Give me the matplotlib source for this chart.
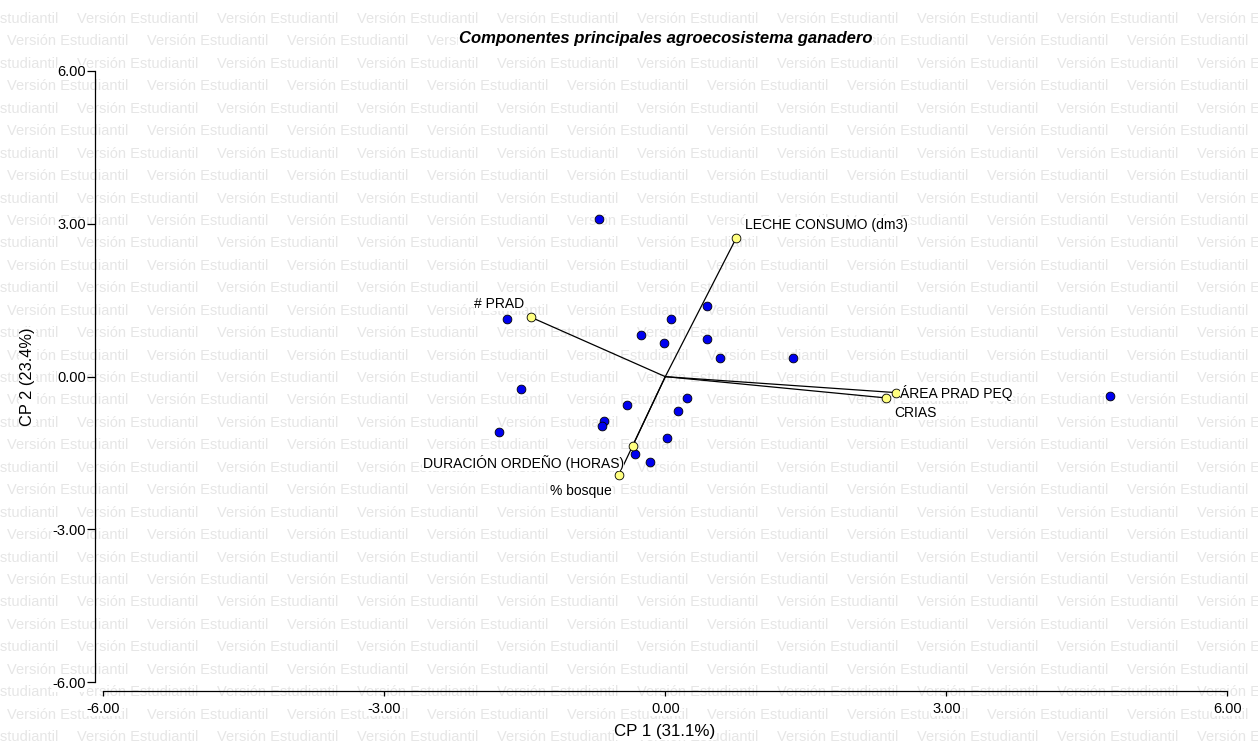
import matplotlib
matplotlib.use("Agg")
import matplotlib.pyplot as plt
from matplotlib.ticker import FixedLocator, FixedFormatter

plt.rcParams['font.family'] = ['Liberation Sans', 'DejaVu Sans']

# ---- data ----
obs_x = [-0.705, -1.687, 0.061, 0.448, -0.256, -0.017, 0.448, 0.581, 1.360, -1.537,
         0.235, -0.406, 0.132, -0.658, -0.673, -1.779, 0.015, -0.327, -0.167, 4.748]
obs_y = [3.09, 1.139, 1.139, 1.394, 0.824, 0.667, 0.746, 0.361, 0.361, -0.241,
         -0.424, -0.550, -0.679, -0.864, -0.968, -1.091, -1.203, -1.512, -1.669, -0.373]

var_names = ["LECHE CONSUMO (dm3)", "# PRAD", "ÁREA PRAD PEQ", "CRIAS",
             "DURACIÓN ORDEÑO (HORAS)", "% bosque"]
var_x = [0.758, -1.434, 2.466, 2.359, -0.348, -0.494]
var_y = [2.723, 1.166, -0.314, -0.418, -1.355, -1.924]

ticks = [-6, -3, 0, 3, 6]
tick_labels = ["-6.00", "-3.00", "0.00", "3.00", "6.00"]

title = "Componentes principales agroecosistema ganadero"
xlabel = "CP 1 (31.1%)"
ylabel = "CP 2 (23.4%)"
watermark = "Versión Estudiantil"

# ---- layout (pixels) ----
W, H = 1258, 744
fig = plt.figure(figsize=(W / 100, H / 100), dpi=100)
fig.patch.set_facecolor('white')

def fx(px):
    return px / W

def fy(py):
    return 1 - py / H

# watermark
wm_color = '#e6e6e6'
period = 140.0
row_h = 22.44
for k in range(34):
    yc = 19 + row_h * k
    start = -63.0 if k % 2 == 0 else 7.0
    x = start
    while x < W:
        fig.text(fx(x), fy(yc), watermark, fontsize=10.5, color=wm_color,
                 ha='left', va='center', zorder=-5)
        x += period

ax = fig.add_axes([fx(103.3), fy(682.3), (1227.3 - 103.3) / W, (682.3 - 71.0) / H])
ax.patch.set_alpha(0)
ax.set_xlim(-6, 6)
ax.set_ylim(-6, 6)

for s in ['top', 'right']:
    ax.spines[s].set_visible(False)
ax.spines['left'].set_position(('outward', 5.8))
ax.spines['bottom'].set_position(('outward', 6.0))
ax.spines['left'].set_bounds(-6, 6)
ax.spines['bottom'].set_bounds(-6, 6)
for s in ['left', 'bottom']:
    ax.spines[s].set_linewidth(0.9)

ax.xaxis.set_major_locator(FixedLocator(ticks))
ax.xaxis.set_major_formatter(FixedFormatter(tick_labels))
ax.yaxis.set_major_locator(FixedLocator(ticks))
ax.yaxis.set_major_formatter(FixedFormatter(tick_labels))
ax.tick_params(axis='x', direction='out', length=3.8, width=0.9, pad=4.2, labelsize=10.5)
ax.tick_params(axis='y', direction='out', length=5.8, width=0.9, pad=0.8, labelsize=10.5)
for lab in ax.get_xticklabels() + ax.get_yticklabels():
    lab.set_bbox(dict(facecolor='white', edgecolor='none', pad=0.5))

# vectors
for vx, vy in zip(var_x, var_y):
    ax.plot([0, vx], [0, vy], color='black', lw=0.9, zorder=2, clip_on=False)

# observations
ax.plot(obs_x, obs_y, 'o', ms=6.3, mfc='#0000f0', mec='black', mew=0.6,
        zorder=3, clip_on=False)
# variables
ax.plot(var_x, var_y, 'o', ms=6.3, mfc='#ffff80', mec='black', mew=0.6,
        zorder=4, clip_on=False)

# label offsets in points (dx, dy, ha)
offsets = [(6.0, 9.4, 'left'), (-4.8, 9.6, 'right'), (2.7, 0.0, 'left'),
           (5.5, -10.8, 'left'), (-6.3, -12.2, 'right'), (-5.3, -11.7, 'right')]
for name, vx, vy, (dx, dy, ha) in zip(var_names, var_x, var_y, offsets):
    ax.annotate(name, (vx, vy), xytext=(dx, dy), textcoords='offset points',
                ha=ha, va='center', fontsize=10, zorder=5,
                bbox=dict(facecolor='white', edgecolor='none', pad=0.3),
                annotation_clip=False)

fig.text(fx(665.6), fy(38), title, fontsize=12, fontweight='bold', fontstyle='italic',
         ha='center', va='center',
         bbox=dict(facecolor='white', edgecolor='none', pad=0.5))
fig.text(fx(665), fy(731.7), xlabel, fontsize=12.2, ha='center', va='center',
         bbox=dict(facecolor='white', edgecolor='none', pad=0.5))
fig.text(fx(27.5), fy(376.5), ylabel, fontsize=11.8, ha='center', va='center',
         rotation=90, bbox=dict(facecolor='white', edgecolor='none', pad=0.5))

fig.savefig('out.png', dpi=100, facecolor='white')
